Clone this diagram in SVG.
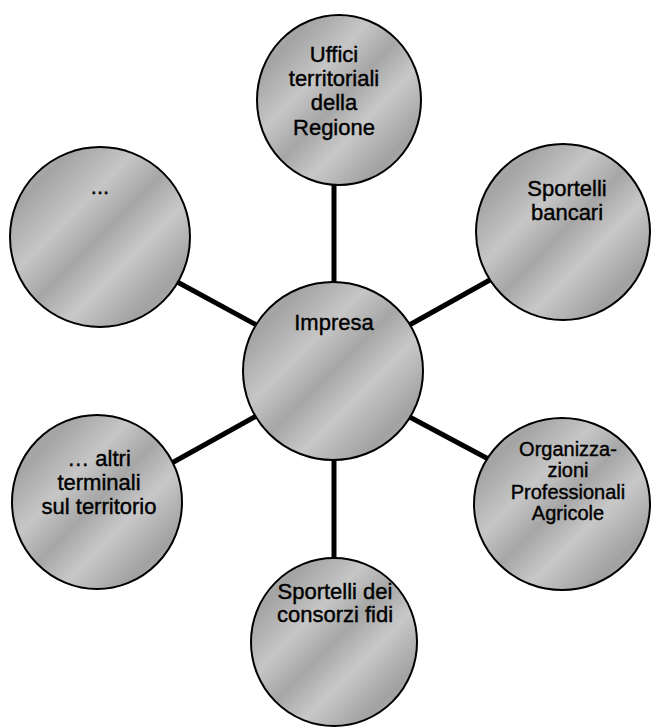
<svg xmlns="http://www.w3.org/2000/svg" width="654" height="727" viewBox="0 0 654 727">
<style>
.node { fill: url(#mottle); stroke: #000; stroke-width: 2; }
.lbl { font-family: "Liberation Sans", Arial, sans-serif; font-size: 22px; fill: #000; text-anchor: middle; stroke: #000; stroke-width: 0.4; }
.sm { font-size: 20px; }
.conn line { stroke: #000; stroke-width: 5; stroke-linecap: butt; }
</style>
<defs>
<linearGradient id="mottle" x1="0" y1="0" x2="1" y2="1">
<stop offset="0" stop-color="#b2b2b2"/>
<stop offset="0.18" stop-color="#a4a4a4"/>
<stop offset="0.36" stop-color="#c6c6c6"/>
<stop offset="0.5" stop-color="#a6a6a6"/>
<stop offset="0.64" stop-color="#c8c8c8"/>
<stop offset="0.82" stop-color="#a2a2a2"/>
<stop offset="1" stop-color="#b0b0b0"/>
</linearGradient>
</defs>
<rect width="654" height="727" fill="#fff"/>
<g id="connectors" class="conn">
<line x1="334" y1="175" x2="334" y2="290"/>
<line x1="170" y1="278" x2="262" y2="328"/>
<line x1="497" y1="276" x2="404" y2="328"/>
<line x1="260" y1="414" x2="170" y2="464"/>
<line x1="404" y1="414" x2="494" y2="462"/>
<line x1="334" y1="455" x2="334" y2="565"/>
</g>
<g id="node-uffici">
<ellipse class="node" cx="339" cy="100" rx="82" ry="85"/>
<text class="lbl" x="334" y="62">Uffici</text>
<text class="lbl" x="334" y="86">territoriali</text>
<text class="lbl" x="334" y="110">della</text>
<text class="lbl" x="334" y="135">Regione</text>
</g>
<g id="node-dots">
<ellipse class="node" cx="100" cy="237" rx="90" ry="90"/>
<text class="lbl" x="100" y="194">...</text>
</g>
<g id="node-bancari">
<ellipse class="node" cx="563" cy="232" rx="87" ry="88"/>
<text class="lbl" x="567" y="196">Sportelli</text>
<text class="lbl" x="567" y="220">bancari</text>
</g>
<g id="node-impresa">
<ellipse class="node" cx="333" cy="371" rx="90" ry="89"/>
<text class="lbl" x="334" y="330">Impresa</text>
</g>
<g id="node-altri">
<ellipse class="node" cx="97" cy="502" rx="85" ry="87"/>
<text class="lbl" x="99" y="466">… altri</text>
<text class="lbl" x="99" y="490">terminali</text>
<text class="lbl" x="99" y="514">sul territorio</text>
</g>
<g id="node-organizzazioni">
<ellipse class="node" cx="562" cy="504" rx="88" ry="86"/>
<text class="lbl sm" x="568" y="456">Organizza-</text>
<text class="lbl sm" x="568" y="477">zioni</text>
<text class="lbl sm" x="568" y="499">Professionali</text>
<text class="lbl sm" x="568" y="520">Agricole</text>
</g>
<g id="node-consorzi">
<ellipse class="node" cx="334" cy="642" rx="83" ry="84"/>
<text class="lbl" x="335" y="599">Sportelli dei</text>
<text class="lbl" x="335" y="622">consorzi fidi</text>
</g>
</svg>
